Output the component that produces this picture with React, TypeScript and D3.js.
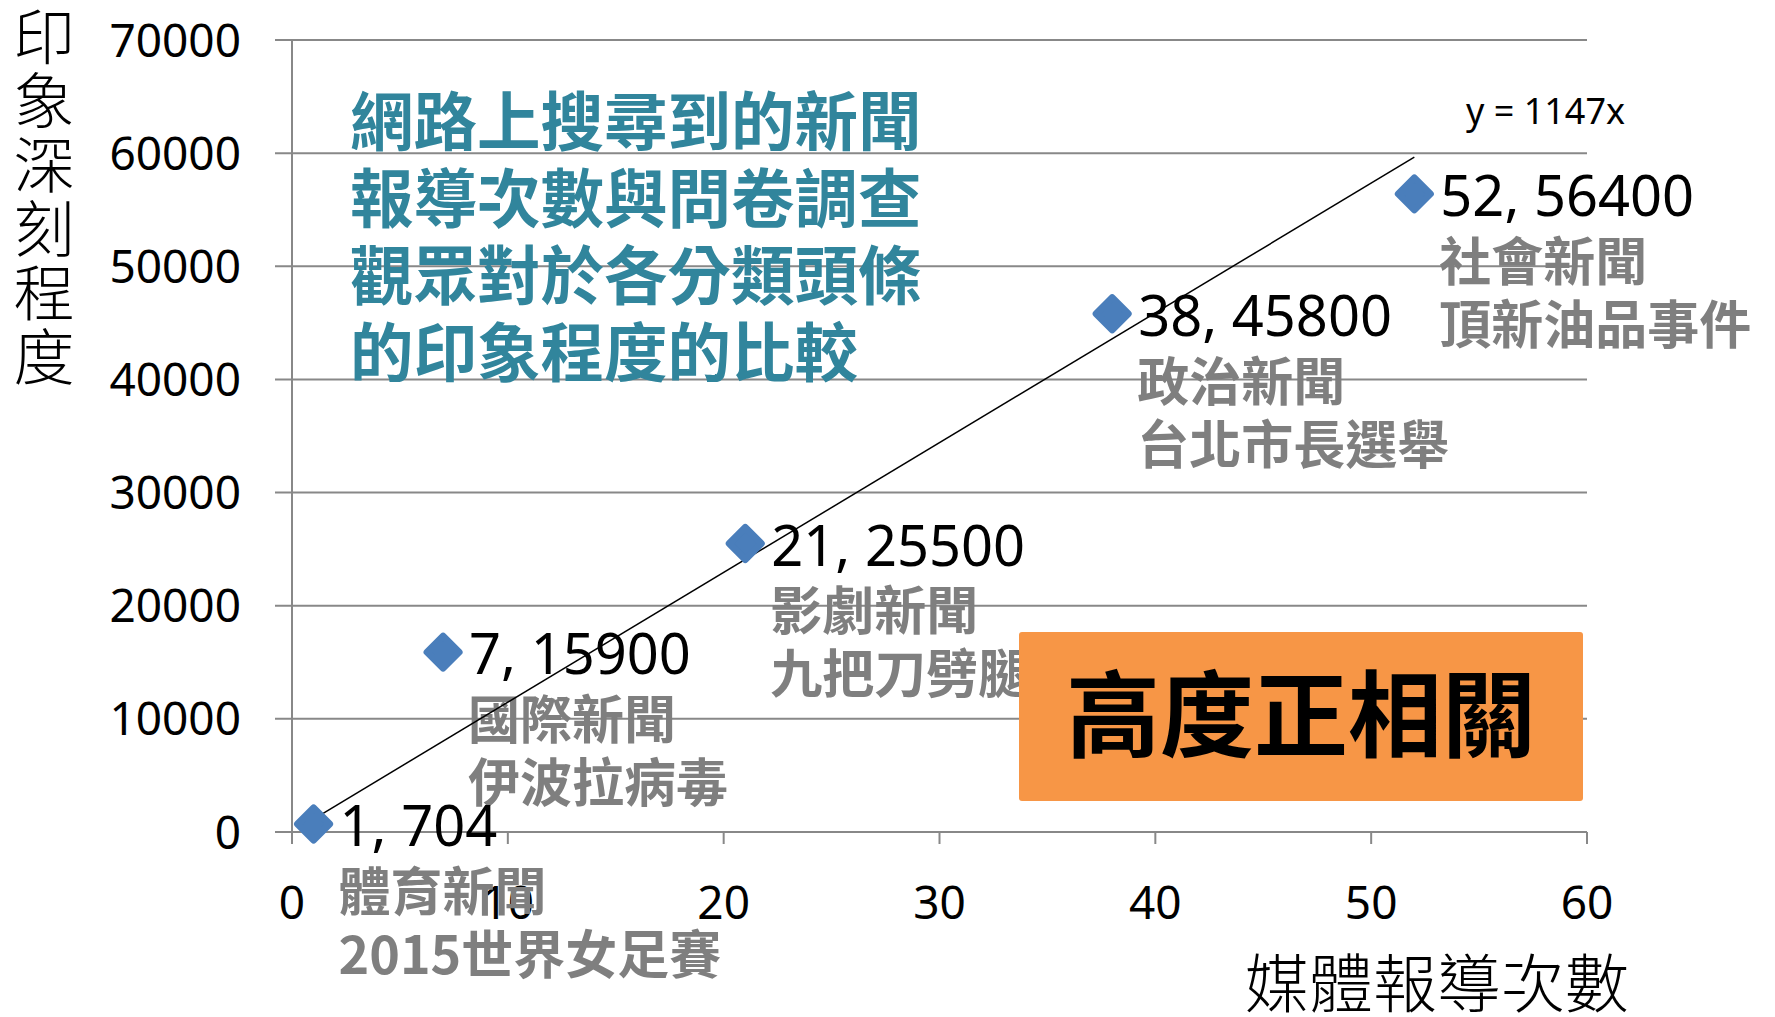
import React, { useRef, useEffect } from 'react';
import * as d3 from 'd3';

// media report counts vs. impression score
const reportCounts = [1, 7, 21, 38, 52];
const impressionScores = [704, 15900, 25500, 45800, 56400];
const categoryNames = ['體育新聞', '國際新聞', '影劇新聞', '政治新聞', '社會新聞'];
const headlineNames = ['2015世界女足賽', '伊波拉病毒', '九把刀劈腿', '台北市長選舉', '頂新油品事件'];
const xTicks = [0, 10, 20, 30, 40, 50, 60];
const yTicks = [0, 10000, 20000, 30000, 40000, 50000, 60000, 70000];
const trendSlope = 1147;
const titleLines = ['網路上搜尋到的新聞', '報導次數與問卷調查', '觀眾對於各分類頭條', '的印象程度的比較'];
const yTitle = '印象深刻程度';
const xTitle = '媒體報導次數';
const calloutText = '高度正相關';

const W = 1775;
const H = 1017;
const LATIN = "'Noto Sans', 'Open Sans', sans-serif";
const CJK = "'Noto Sans CJK TC', 'Noto Sans CJK SC', sans-serif";

export default function App() {
  const svgRef = useRef<SVGSVGElement>(null);

  useEffect(() => {
    if (!svgRef.current) return;
    const svg = d3.select(svgRef.current);
    svg.selectAll('*').remove();

    const x = d3.scaleLinear().domain([0, 60]).range([292, 1587]);
    const y = d3.scaleLinear().domain([0, 70000]).range([832, 40]);
    const gridColor = '#888888';

    const g = svg.append('g');

    // horizontal gridlines
    g.selectAll('line.grid')
      .data(yTicks)
      .enter()
      .append('line')
      .attr('class', 'grid')
      .attr('x1', x(0) - 17)
      .attr('x2', x(60))
      .attr('y1', d => y(d))
      .attr('y2', d => y(d))
      .attr('stroke', gridColor)
      .attr('stroke-width', 2);

    // y axis line
    g.append('line')
      .attr('x1', x(0)).attr('x2', x(0))
      .attr('y1', y(70000)).attr('y2', y(0) + 12)
      .attr('stroke', gridColor).attr('stroke-width', 2);

    // x tick marks
    g.selectAll('line.xtick')
      .data(xTicks.slice(1))
      .enter()
      .append('line')
      .attr('class', 'xtick')
      .attr('x1', d => x(d)).attr('x2', d => x(d))
      .attr('y1', y(0)).attr('y2', y(0) + 12)
      .attr('stroke', gridColor).attr('stroke-width', 2);

    // y tick labels
    g.selectAll('text.ylab')
      .data(yTicks)
      .enter()
      .append('text')
      .attr('class', 'ylab')
      .attr('x', 241)
      .attr('y', d => y(d))
      .attr('dy', '0.36em')
      .attr('text-anchor', 'end')
      .attr('font-family', LATIN)
      .attr('font-size', 46)
      .attr('fill', '#000')
      .text(d => String(d));

    // x tick labels
    g.selectAll('text.xlab')
      .data(xTicks)
      .enter()
      .append('text')
      .attr('class', 'xlab')
      .attr('x', d => x(d))
      .attr('y', 902)
      .attr('dy', '0.36em')
      .attr('text-anchor', 'middle')
      .attr('font-family', LATIN)
      .attr('font-size', 46)
      .attr('fill', '#000')
      .text(d => String(d));

    // axis titles
    g.selectAll('text.ytitle')
      .data(yTitle.split(''))
      .enter()
      .append('text')
      .attr('class', 'ytitle')
      .attr('x', 44)
      .attr('y', (d, i) => 38 + i * 64)
      .attr('dy', '0.36em')
      .attr('text-anchor', 'middle')
      .attr('font-family', CJK)
      .attr('font-weight', 300)
      .attr('font-size', 61)
      .attr('fill', '#000')
      .text(d => d);

    g.append('text')
      .attr('x', 1437)
      .attr('y', 984)
      .attr('dy', '0.36em')
      .attr('text-anchor', 'middle')
      .attr('font-family', CJK)
      .attr('font-weight', 300)
      .attr('font-size', 64)
      .attr('fill', '#000')
      .text(xTitle);

    // title block
    g.selectAll('text.title')
      .data(titleLines)
      .enter()
      .append('text')
      .attr('class', 'title')
      .attr('x', 350)
      .attr('y', (d, i) => 122 + i * 77)
      .attr('dy', '0.36em')
      .attr('font-family', CJK)
      .attr('font-weight', 'bold')
      .attr('font-size', 63.5)
      .attr('fill', '#31859C')
      .text(d => d);

    const pts = reportCounts.map((c, i) => ({
      c,
      v: impressionScores[i],
      cat: categoryNames[i],
      head: headlineNames[i],
    }));

    // gray category labels
    const lab = g.selectAll('g.lab').data(pts).enter().append('g').attr('class', 'lab');
    lab.append('text')
      .attr('x', d => x(d.c) + 25)
      .attr('y', d => y(d.v) + 68)
      .attr('dy', '0.36em')
      .attr('font-family', CJK)
      .attr('font-weight', 'bold')
      .attr('font-size', 52)
      .attr('fill', '#7F7F7F')
      .text(d => d.cat);
    lab.append('text')
      .attr('x', d => x(d.c) + 25)
      .attr('y', d => y(d.v) + 131)
      .attr('dy', '0.36em')
      .attr('font-family', CJK)
      .attr('font-weight', 'bold')
      .attr('font-size', 52)
      .attr('fill', '#7F7F7F')
      .text(d => d.head);

    // trend line y = 1147x
    const [xMin, xMax] = d3.extent(reportCounts) as [number, number];
    g.append('line')
      .attr('x1', x(xMin)).attr('y1', y(trendSlope * xMin))
      .attr('x2', x(xMax)).attr('y2', y(trendSlope * xMax))
      .attr('stroke', '#000')
      .attr('stroke-width', 1.5);

    g.append('text')
      .attr('x', 1466)
      .attr('y', 111)
      .attr('dy', '0.36em')
      .attr('font-family', LATIN)
      .attr('font-size', 36)
      .attr('fill', '#000')
      .text(`y = ${trendSlope}x`);

    // markers
    const s = 16;
    g.selectAll('path.pt')
      .data(pts)
      .enter()
      .append('path')
      .attr('class', 'pt')
      .attr('d', `M0,${-s}L${s},0L0,${s}L${-s},0Z`)
      .attr('transform', d => `translate(${x(d.c)},${y(d.v)})`)
      .attr('fill', '#4A7EBB')
      .attr('stroke', '#4A7EBB')
      .attr('stroke-width', 7)
      .attr('stroke-linejoin', 'round');

    // value labels
    g.selectAll('text.val')
      .data(pts)
      .enter()
      .append('text')
      .attr('class', 'val')
      .attr('x', d => x(d.c) + 26)
      .attr('y', d => y(d.v) + 2)
      .attr('dy', '0.36em')
      .attr('font-family', LATIN)
      .attr('font-size', 56)
      .attr('fill', '#000')
      .text(d => `${d.c}, ${d.v}`);

    // callout box
    g.append('rect')
      .attr('x', 1019).attr('y', 632)
      .attr('width', 564).attr('height', 169)
      .attr('rx', 3)
      .attr('fill', '#F79646');
    g.append('text')
      .attr('x', 1301)
      .attr('y', 716)
      .attr('dy', '0.36em')
      .attr('text-anchor', 'middle')
      .attr('font-family', CJK)
      .attr('font-weight', 'bold')
      .attr('font-size', 94)
      .attr('fill', '#000')
      .text(calloutText);
  }, []);

  return (
    <svg
      ref={svgRef}
      width={W}
      height={H}
      style={{ position: 'absolute', left: 0, top: 0, background: '#fff' }}
    />
  );
}
